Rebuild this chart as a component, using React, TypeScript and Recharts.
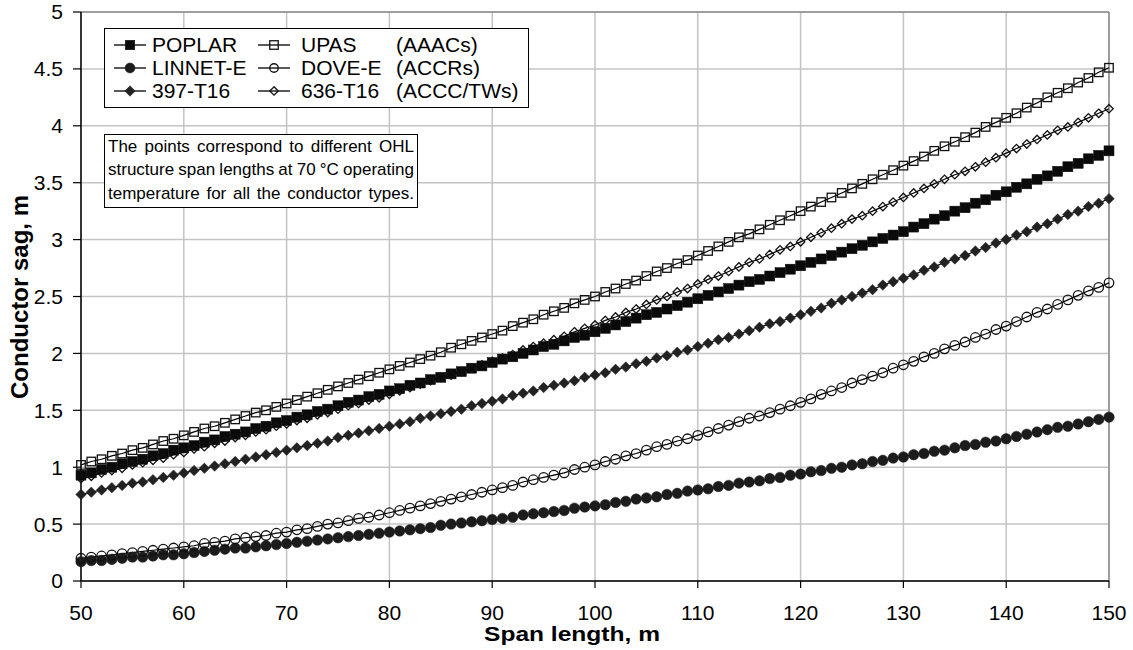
import React from 'react';
import { LineChart, Line, XAxis, YAxis, CartesianGrid, Legend, ReferenceLine } from 'recharts';

const spans = [
  50, 51, 52, 53, 54, 55, 56, 57, 58, 59,
  60, 61, 62, 63, 64, 65, 66, 67, 68, 69,
  70, 71, 72, 73, 74, 75, 76, 77, 78, 79,
  80, 81, 82, 83, 84, 85, 86, 87, 88, 89,
  90, 91, 92, 93, 94, 95, 96, 97, 98, 99,
  100, 101, 102, 103, 104, 105, 106, 107, 108, 109,
  110, 111, 112, 113, 114, 115, 116, 117, 118, 119,
  120, 121, 122, 123, 124, 125, 126, 127, 128, 129,
  130, 131, 132, 133, 134, 135, 136, 137, 138, 139,
  140, 141, 142, 143, 144, 145, 146, 147, 148, 149,
  150,
];

const poplar = [
  0.93, 0.95, 0.98, 1.00, 1.03, 1.05, 1.07, 1.10, 1.12, 1.15,
  1.17, 1.19, 1.22, 1.24, 1.27, 1.29, 1.31, 1.34, 1.36, 1.39,
  1.41, 1.44, 1.46, 1.49, 1.51, 1.54, 1.57, 1.59, 1.62, 1.64,
  1.67, 1.69, 1.72, 1.74, 1.77, 1.79, 1.82, 1.84, 1.87, 1.89,
  1.92, 1.95, 1.97, 2.00, 2.03, 2.06, 2.08, 2.11, 2.14, 2.16,
  2.19, 2.22, 2.25, 2.28, 2.31, 2.34, 2.36, 2.39, 2.42, 2.45,
  2.48, 2.51, 2.54, 2.57, 2.60, 2.63, 2.65, 2.68, 2.71, 2.74,
  2.77, 2.80, 2.83, 2.86, 2.89, 2.92, 2.95, 2.98, 3.01, 3.04,
  3.07, 3.11, 3.14, 3.18, 3.21, 3.25, 3.28, 3.32, 3.35, 3.39,
  3.42, 3.46, 3.49, 3.53, 3.56, 3.60, 3.64, 3.67, 3.71, 3.74,
  3.78,
];

const upas = [
  1.02, 1.05, 1.07, 1.10, 1.12, 1.15, 1.17, 1.20, 1.23, 1.25,
  1.28, 1.31, 1.34, 1.36, 1.39, 1.42, 1.45, 1.48, 1.50, 1.53,
  1.56, 1.59, 1.62, 1.65, 1.68, 1.71, 1.74, 1.77, 1.80, 1.83,
  1.86, 1.89, 1.92, 1.95, 1.98, 2.01, 2.05, 2.08, 2.11, 2.14,
  2.17, 2.20, 2.24, 2.27, 2.30, 2.34, 2.37, 2.40, 2.44, 2.47,
  2.50, 2.54, 2.57, 2.61, 2.64, 2.68, 2.72, 2.75, 2.79, 2.82,
  2.86, 2.90, 2.94, 2.98, 3.02, 3.05, 3.09, 3.13, 3.17, 3.21,
  3.25, 3.29, 3.33, 3.37, 3.41, 3.45, 3.49, 3.53, 3.57, 3.61,
  3.65, 3.69, 3.73, 3.78, 3.82, 3.86, 3.90, 3.94, 3.99, 4.03,
  4.07, 4.11, 4.16, 4.20, 4.25, 4.29, 4.33, 4.38, 4.42, 4.47,
  4.51,
];

const linnet = [
  0.17, 0.18, 0.18, 0.19, 0.20, 0.21, 0.21, 0.22, 0.23, 0.23,
  0.24, 0.25, 0.26, 0.27, 0.28, 0.29, 0.29, 0.30, 0.31, 0.32,
  0.33, 0.34, 0.35, 0.36, 0.37, 0.38, 0.39, 0.40, 0.41, 0.42,
  0.43, 0.44, 0.45, 0.46, 0.47, 0.49, 0.50, 0.51, 0.52, 0.53,
  0.54, 0.55, 0.56, 0.58, 0.59, 0.60, 0.61, 0.62, 0.64, 0.65,
  0.66, 0.67, 0.69, 0.70, 0.72, 0.73, 0.74, 0.76, 0.77, 0.79,
  0.80, 0.81, 0.83, 0.84, 0.86, 0.87, 0.88, 0.90, 0.91, 0.93,
  0.94, 0.96, 0.97, 0.99, 1.00, 1.02, 1.03, 1.05, 1.06, 1.08,
  1.09, 1.11, 1.12, 1.14, 1.15, 1.17, 1.19, 1.20, 1.22, 1.23,
  1.25, 1.27, 1.29, 1.31, 1.33, 1.35, 1.36, 1.38, 1.40, 1.42,
  1.44,
];

const dove = [
  0.20, 0.21, 0.22, 0.23, 0.24, 0.25, 0.26, 0.27, 0.28, 0.29,
  0.30, 0.31, 0.33, 0.34, 0.35, 0.37, 0.38, 0.39, 0.40, 0.42,
  0.43, 0.45, 0.46, 0.48, 0.50, 0.51, 0.53, 0.55, 0.56, 0.58,
  0.60, 0.62, 0.64, 0.66, 0.68, 0.70, 0.72, 0.74, 0.76, 0.78,
  0.80, 0.82, 0.84, 0.87, 0.89, 0.91, 0.93, 0.95, 0.98, 1.00,
  1.02, 1.05, 1.07, 1.10, 1.12, 1.15, 1.18, 1.20, 1.23, 1.25,
  1.28, 1.31, 1.34, 1.37, 1.40, 1.43, 1.45, 1.48, 1.51, 1.54,
  1.57, 1.60, 1.64, 1.67, 1.70, 1.74, 1.77, 1.80, 1.83, 1.87,
  1.90, 1.93, 1.97, 2.00, 2.04, 2.07, 2.10, 2.14, 2.17, 2.21,
  2.24, 2.28, 2.32, 2.36, 2.39, 2.43, 2.47, 2.51, 2.55, 2.58,
  2.62,
];

const t397 = [
  0.76, 0.78, 0.80, 0.82, 0.84, 0.86, 0.87, 0.89, 0.91, 0.93,
  0.95, 0.97, 0.99, 1.01, 1.03, 1.05, 1.07, 1.09, 1.11, 1.13,
  1.15, 1.17, 1.19, 1.21, 1.23, 1.26, 1.28, 1.30, 1.32, 1.34,
  1.36, 1.38, 1.40, 1.43, 1.45, 1.47, 1.49, 1.51, 1.54, 1.56,
  1.58, 1.60, 1.63, 1.65, 1.67, 1.70, 1.72, 1.74, 1.76, 1.79,
  1.81, 1.83, 1.86, 1.88, 1.91, 1.93, 1.96, 1.98, 2.01, 2.03,
  2.06, 2.09, 2.12, 2.14, 2.17, 2.20, 2.23, 2.26, 2.28, 2.31,
  2.34, 2.37, 2.40, 2.44, 2.47, 2.50, 2.53, 2.56, 2.60, 2.63,
  2.66, 2.69, 2.73, 2.76, 2.80, 2.83, 2.86, 2.90, 2.93, 2.97,
  3.00, 3.04, 3.07, 3.11, 3.14, 3.18, 3.22, 3.25, 3.29, 3.32,
  3.36,
];

const t636 = [
  0.90, 0.92, 0.95, 0.97, 0.99, 1.02, 1.04, 1.06, 1.08, 1.11,
  1.13, 1.16, 1.18, 1.21, 1.23, 1.26, 1.28, 1.31, 1.33, 1.36,
  1.38, 1.41, 1.43, 1.46, 1.48, 1.51, 1.54, 1.56, 1.59, 1.61,
  1.64, 1.67, 1.70, 1.73, 1.76, 1.79, 1.81, 1.84, 1.87, 1.90,
  1.93, 1.96, 1.99, 2.03, 2.06, 2.09, 2.12, 2.15, 2.19, 2.22,
  2.25, 2.29, 2.32, 2.36, 2.39, 2.43, 2.47, 2.50, 2.54, 2.57,
  2.61, 2.65, 2.68, 2.72, 2.76, 2.80, 2.83, 2.87, 2.91, 2.94,
  2.98, 3.02, 3.06, 3.10, 3.14, 3.18, 3.21, 3.25, 3.29, 3.33,
  3.37, 3.41, 3.45, 3.49, 3.53, 3.57, 3.60, 3.64, 3.68, 3.72,
  3.76, 3.80, 3.84, 3.88, 3.92, 3.96, 3.99, 4.03, 4.07, 4.11,
  4.15,
];

const xTicks = [50, 60, 70, 80, 90, 100, 110, 120, 130, 140, 150];
const yTicks = [0, 0.5, 1, 1.5, 2, 2.5, 3, 3.5, 4, 4.5, 5];
const groupLabels = ['(AAACs)', '(ACCRs)', '(ACCC/TWs)'];
const noteLines = [
  'The points correspond to different OHL',
  'structure span lengths at 70 °C operating',
  'temperature for all the conductor types.',
];

const data = spans.map((s, i) => ({
  span: s,
  poplar: poplar[i],
  upas: upas[i],
  linnet: linnet[i],
  dove: dove[i],
  t397: t397[i],
  t636: t636[i],
}));

type Shape = 'square' | 'circle' | 'diamond';
interface SeriesCfg { key: string; name: string; shape: Shape; size: number; filled: boolean; color: string; legendSize: number; }

const SERIES: SeriesCfg[] = [
  { key: 'poplar', name: 'POPLAR', shape: 'square', size: 10, filled: true, color: '#0a0a0a', legendSize: 9.5 },
  { key: 'upas', name: 'UPAS', shape: 'square', size: 8.5, filled: false, color: '#111', legendSize: 8.5 },
  { key: 'linnet', name: 'LINNET-E', shape: 'circle', size: 10.5, filled: true, color: '#1c1c1c', legendSize: 10 },
  { key: 'dove', name: 'DOVE-E', shape: 'circle', size: 9.5, filled: false, color: '#111', legendSize: 8.5 },
  { key: 't397', name: '397-T16', shape: 'diamond', size: 10, filled: true, color: '#222', legendSize: 10 },
  { key: 't636', name: '636-T16', shape: 'diamond', size: 8, filled: false, color: '#111', legendSize: 8 },
];

const FONT = '"Liberation Sans", Arial, Helvetica, sans-serif';

function Marker({ cx, cy, shape, size, filled, color }: { cx: number; cy: number; shape: Shape; size: number; filled: boolean; color: string }) {
  const fill = filled ? color : 'none';
  const stroke = color;
  const sw = filled ? 0.5 : 1.3;
  const h = size / 2;
  if (shape === 'square') {
    return <rect x={cx - h} y={cy - h} width={size} height={size} fill={fill} stroke={stroke} strokeWidth={sw} />;
  }
  if (shape === 'circle') {
    return <circle cx={cx} cy={cy} r={h} fill={fill} stroke={stroke} strokeWidth={sw} />;
  }
  const d = h * 1.05;
  return (
    <polygon
      points={`${cx},${cy - d} ${cx + d},${cy} ${cx},${cy + d} ${cx - d},${cy}`}
      fill={fill}
      stroke={stroke}
      strokeWidth={sw}
    />
  );
}

const makeDot = (cfg: SeriesCfg) => (props: any) => {
  const { cx, cy, index } = props;
  if (cx == null || cy == null) return <g key={`${cfg.key}-e-${index}`} />;
  return (
    <g key={`${cfg.key}-${index}`}>
      <Marker cx={cx} cy={cy} shape={cfg.shape} size={cfg.size} filled={cfg.filled} color={cfg.color} />
    </g>
  );
};

function LegendIcon({ cfg }: { cfg: SeriesCfg }) {
  return (
    <svg width={34} height={14} style={{ display: 'block' }}>
      <line x1={1} y1={7} x2={33} y2={7} stroke="#000" strokeWidth={1.3} />
      <Marker cx={17} cy={7} shape={cfg.shape} size={cfg.legendSize} filled={cfg.filled} color={cfg.color} />
    </svg>
  );
}

const LegendBox = (props: any) => {
  const payload = (props && props.payload) || [];
  const ordered: SeriesCfg[] = SERIES.filter((s) => payload.length === 0 || payload.some((p: any) => p.dataKey === s.key));
  const rowY = [16, 39, 62];
  const items = ordered.map((cfg, i) => {
    const row = Math.floor(i / 2);
    const col = i % 2;
    const iconLeft = col === 0 ? 8 : 152;
    const textLeft = col === 0 ? 47 : 196;
    return (
      <React.Fragment key={cfg.key}>
        <div style={{ position: 'absolute', left: iconLeft, top: rowY[row] - 7 }}>
          <LegendIcon cfg={cfg} />
        </div>
        <div style={{ position: 'absolute', left: textLeft, top: rowY[row] - 12, lineHeight: '24px', whiteSpace: 'nowrap' }}>
          {cfg.name}
        </div>
      </React.Fragment>
    );
  });
  return (
    <div
      style={{
        position: 'relative',
        width: 425,
        height: 80,
        boxSizing: 'border-box',
        border: '1.5px solid #000',
        background: '#fff',
        fontFamily: FONT,
        fontSize: 21,
        color: '#000',
      }}
    >
      {items}
      {groupLabels.map((g, r) => (
        <div key={g} style={{ position: 'absolute', left: 291, top: rowY[r] - 12, lineHeight: '24px', whiteSpace: 'nowrap' }}>
          {g}
        </div>
      ))}
    </div>
  );
};

const XTitle = () => (
  <text
    transform="translate(572 641) scale(1.17 1)"
    x={0}
    y={0}
    textAnchor="middle"
    fontFamily={FONT}
    fontWeight="bold"
    fontSize={21}
    fill="#000"
  >
    Span length, m
  </text>
);

const YTitle = () => (
  <text
    x={19}
    y={297}
    transform="rotate(-90 19 297)"
    textAnchor="middle"
    dominantBaseline="central"
    fontFamily={FONT}
    fontWeight="bold"
    fontSize={24}
    fill="#000"
  >
    Conductor sag, m
  </text>
);

export default function App() {
  return (
    <div style={{ position: 'absolute', left: 0, top: 0, width: 1133, height: 650, background: '#fff' }}>
      <LineChart
        width={1133}
        height={650}
        data={data}
        margin={{ top: 12, right: 24, bottom: 0, left: 0 }}
      >
        <CartesianGrid stroke="#c4c4c4" strokeWidth={1.5} />
        <XAxis
          dataKey="span"
          type="number"
          domain={[50, 150]}
          ticks={xTicks}
          height={69}
          stroke="#000"
          tickSize={7}
          tickMargin={17}
          tick={{ fill: '#000', fontSize: 21, fontFamily: FONT }}
          axisLine={{ stroke: '#000', strokeWidth: 1.5 }}
          tickLine={{ stroke: '#000', strokeWidth: 1.2 }}
          label={XTitle}
          interval={0}
        />
        <YAxis
          type="number"
          domain={[0, 5]}
          ticks={yTicks}
          width={81}
          stroke="#000"
          tickSize={8}
          tickMargin={10}
          tick={{ fill: '#000', fontSize: 21, fontFamily: FONT }}
          axisLine={{ stroke: '#000', strokeWidth: 1.5 }}
          tickLine={{ stroke: '#000', strokeWidth: 1.2 }}
          label={YTitle}
          interval={0}
        />
        <ReferenceLine x={150} stroke="#8c8c8c" strokeWidth={1.5} />
        <ReferenceLine y={5} stroke="#8c8c8c" strokeWidth={1.5} />
        {SERIES.map((cfg) => (
          <Line
            key={cfg.key}
            type="linear"
            dataKey={cfg.key}
            name={cfg.name}
            stroke="#000"
            strokeWidth={1.2}
            dot={makeDot(cfg)}
            activeDot={false}
            isAnimationActive={false}
          />
        ))}
        <Legend
          layout="horizontal"
          verticalAlign="middle"
          align="center"
          content={LegendBox}
          wrapperStyle={{ left: 104, top: 28, width: 425, height: 80 }}
        />
      </LineChart>
      <div
        style={{
          position: 'absolute',
          left: 104,
          top: 134,
          width: 314,
          height: 74,
          boxSizing: 'border-box',
          border: '1.5px solid #000',
          background: '#fff',
          fontFamily: FONT,
          fontSize: 17,
          lineHeight: '23.3px',
          padding: '0 3px',
          color: '#000',
        }}
      >
        {noteLines.map((l) => (
          <div key={l} style={{ display: 'flex', justifyContent: 'space-between', whiteSpace: 'nowrap' }}>
            {l.split(' ').map((w, i) => (
              <span key={i}>{w}</span>
            ))}
          </div>
        ))}
      </div>
    </div>
  );
}
